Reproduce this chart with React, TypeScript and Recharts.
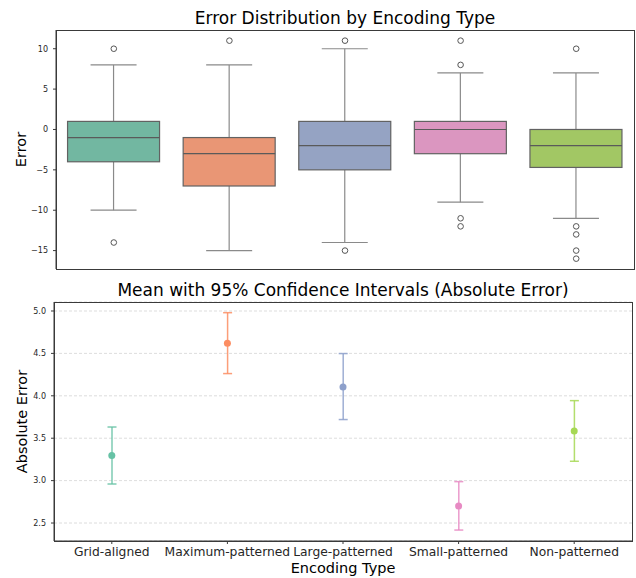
import { Bar, CartesianGrid, Cell, ComposedChart, Scatter, XAxis, YAxis } from "recharts";

// Encoding types shown on the x axis of both panels
const CATEGORIES = ["Grid-aligned", "Maximum-patterned", "Large-patterned", "Small-patterned", "Non-patterned"];

// Box plot of signed error
const WHISKER_LOW = [-10, -15, -14, -9, -11];
const Q1 = [-4, -7, -5, -3, -4.7];
const MEDIAN = [-1, -3, -2, 0, -2];
const Q3 = [1, -1, 1, 1, 0];
const WHISKER_HIGH = [8, 8, 10, 7, 7];
const OUTLIERS = [
  [10, -14],
  [11],
  [11, -15],
  [11, 8, -11, -12],
  [10, -12, -13, -15, -16],
];
const ERROR_TICKS = [-15, -10, -5, 0, 5, 10];

// Mean absolute error with 95% CI
const MEAN_ABS = [3.295, 4.62, 4.105, 2.7, 3.585];
const CI_LOW = [2.96, 4.262, 3.72, 2.417, 3.228];
const CI_HIGH = [3.632, 4.98, 4.498, 2.988, 3.943];
const ABS_TICKS = [2.5, 3.0, 3.5, 4.0, 4.5, 5.0];

const BOX_COLORS = ["#72b7a1", "#e99675", "#95a3c3", "#db96c0", "#a2c764"];
const POINT_COLORS = ["#66c2a5", "#fc8d62", "#8da0cb", "#e78ac3", "#a6d854"];

const MAX_OUT = Math.max(...OUTLIERS.map((o) => o.length));
const OUT_KEYS = Array.from({ length: MAX_OUT }, (_, i) => `o${i}`);

const boxData = CATEGORIES.map((name, i) => {
  const row: Record<string, any> = {
    name,
    wLo: WHISKER_LOW[i],
    q1: Q1[i],
    med: MEDIAN[i],
    q3: Q3[i],
    wHi: WHISKER_HIGH[i],
  };
  OUT_KEYS.forEach((k, j) => {
    row[k] = OUTLIERS[i][j] ?? null;
  });
  return row;
});

const ciData = CATEGORIES.map((name, i) => ({
  name,
  mean: MEAN_ABS[i],
  lo: CI_LOW[i],
  hi: CI_HIGH[i],
}));

const FONT = '"DejaVu Sans", sans-serif';
const SPINE = "#3a3a3a";
const TICK_TEXT = { fontSize: 8, fill: "#262626" };
const minus = (v: number) => String(v).replace("-", "\u2212");

function BoxShape(props: any) {
  const { x, y, width, height, payload, index } = props;
  if (!payload) return <g />;
  const top = Math.min(y, y + height);
  const bot = Math.max(y, y + height);
  const span = payload.wHi - payload.wLo;
  const py = (v: number) => bot - ((v - payload.wLo) / span) * (bot - top);
  const cx = x + width / 2;
  const cap = width / 4;
  return (
    <g>
      <line x1={cx} x2={cx} y1={py(payload.wHi)} y2={py(payload.q3)} stroke="#8a8a8a" strokeWidth={1.2} />
      <line x1={cx} x2={cx} y1={py(payload.q1)} y2={py(payload.wLo)} stroke="#8a8a8a" strokeWidth={1.2} />
      <line x1={cx - cap} x2={cx + cap} y1={py(payload.wHi)} y2={py(payload.wHi)} stroke="#8a8a8a" strokeWidth={1.2} />
      <line x1={cx - cap} x2={cx + cap} y1={py(payload.wLo)} y2={py(payload.wLo)} stroke="#8a8a8a" strokeWidth={1.2} />
      <rect
        x={x}
        y={py(payload.q3)}
        width={width}
        height={py(payload.q1) - py(payload.q3)}
        fill={BOX_COLORS[index]}
        stroke="#626262"
        strokeWidth={1.2}
      />
      <line x1={x} x2={x + width} y1={py(payload.med)} y2={py(payload.med)} stroke="#5a5a5a" strokeWidth={1.2} />
    </g>
  );
}

const outlierShape = (key: string) => (props: any) => {
  const v = props.payload ? props.payload[key] : null;
  if (v == null || !Number.isFinite(props.cy)) return <g />;
  return <circle cx={props.cx} cy={props.cy} r={2.8} fill="none" stroke="#555" strokeWidth={1} />;
};

function CIShape(props: any) {
  const { x, y, width, height, index } = props;
  const top = Math.min(y, y + height);
  const bot = Math.max(y, y + height);
  const cx = x + width / 2;
  const color = POINT_COLORS[index];
  return (
    <g stroke={color} strokeWidth={1.5} strokeOpacity={0.85}>
      <line x1={cx} x2={cx} y1={top} y2={bot} />
      <line x1={cx - 4.5} x2={cx + 4.5} y1={top} y2={top} />
      <line x1={cx - 4.5} x2={cx + 4.5} y1={bot} y2={bot} />
    </g>
  );
}

const MeanDot = (props: any) => <circle cx={props.cx} cy={props.cy} r={3.5} fill={props.fill} />;

const yLabel = (text: string, lx: number) => (props: any) => {
  const vb = props.viewBox;
  const cy = vb.y + vb.height / 2;
  return (
    <text
      x={lx}
      y={cy}
      transform={`rotate(-90 ${lx} ${cy})`}
      textAnchor="middle"
      dominantBaseline="central"
      fontSize={14.5}
      fill="#000"
    >
      {text}
    </text>
  );
};

const titleStyle = {
  position: "absolute" as const,
  width: 578,
  textAlign: "center" as const,
  fontSize: 17,
  lineHeight: "17px",
  color: "#000",
};

const frameStyle = {
  position: "absolute" as const,
  border: `1px solid ${SPINE}`,
  boxSizing: "border-box" as const,
  pointerEvents: "none" as const,
};

export default function App() {
  return (
    <div
      style={{
        position: "absolute",
        left: 0,
        top: 0,
        width: 636,
        height: 578,
        background: "#fff",
        fontFamily: FONT,
      }}
    >
      <div style={{ ...titleStyle, left: 56, top: 10 }}>Error Distribution by Encoding Type</div>
      <div style={{ position: "absolute", left: 0, top: 0 }}>
        <ComposedChart
          width={636}
          height={280}
          data={boxData}
          margin={{ top: 30, right: 2, bottom: 11, left: 0 }}
          barCategoryGap="10%"
        >
          <XAxis dataKey="name" tick={false} tickLine={false} height={0} axisLine={{ stroke: SPINE }} />
          <YAxis
            type="number"
            domain={[-17.28, 12.32]}
            ticks={ERROR_TICKS}
            allowDataOverflow
            width={56}
            tick={TICK_TEXT}
            tickFormatter={minus}
            tickSize={3}
            tickMargin={5}
            tickLine={{ stroke: SPINE }}
            axisLine={{ stroke: SPINE }}
            label={{ content: yLabel("Error", 21) }}
          />
          <Bar dataKey={(d: any) => [d.wLo, d.wHi]} shape={BoxShape} isAnimationActive={false} />
          {OUT_KEYS.map((k) => (
            <Scatter key={k} dataKey={k} shape={outlierShape(k)} isAnimationActive={false} />
          ))}
        </ComposedChart>
      </div>
      <div style={{ ...frameStyle, left: 55.5, top: 29.5, width: 579, height: 240 }} />

      <div style={{ ...titleStyle, left: 54, top: 282 }}>Mean with 95% Confidence Intervals (Absolute Error)</div>
      <div style={{ position: "absolute", left: 0, top: 280 }}>
        <ComposedChart
          width={636}
          height={298}
          data={ciData}
          margin={{ top: 22, right: 4, bottom: 0, left: 0 }}
        >
          <CartesianGrid vertical={false} stroke="#d4d4d4" strokeDasharray="3 2" strokeWidth={0.8} />
          <XAxis
            dataKey="name"
            height={37}
            tick={{ fontSize: 12.3, fill: "#262626" }}
            tickSize={3}
            tickMargin={3}
            interval={0}
            tickLine={{ stroke: SPINE }}
            axisLine={{ stroke: SPINE }}
            label={{ value: "Encoding Type", position: "insideBottom", offset: 5, fontSize: 14.5, fill: "#000" }}
          />
          <YAxis
            type="number"
            domain={[2.288, 5.106]}
            ticks={ABS_TICKS}
            allowDataOverflow
            width={54}
            tick={TICK_TEXT}
            tickFormatter={(v: number) => v.toFixed(1)}
            tickSize={3}
            tickMargin={5}
            tickLine={{ stroke: SPINE }}
            axisLine={{ stroke: SPINE }}
            label={{ content: yLabel("Absolute Error", 22) }}
          />
          <Bar dataKey={(d: any) => [d.lo, d.hi]} barSize={10} shape={CIShape} isAnimationActive={false} />
          <Scatter dataKey="mean" shape={MeanDot} isAnimationActive={false}>
            {ciData.map((d, i) => (
              <Cell key={d.name} fill={POINT_COLORS[i]} />
            ))}
          </Scatter>
        </ComposedChart>
      </div>
      <div style={{ ...frameStyle, left: 53.5, top: 301.5, width: 579, height: 240 }} />
    </div>
  );
}
